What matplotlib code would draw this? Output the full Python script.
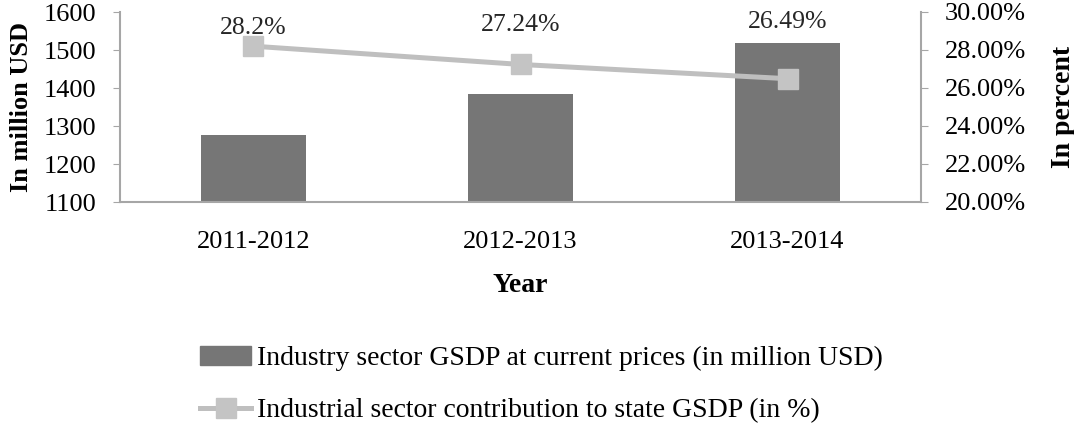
import matplotlib
matplotlib.use("Agg")
import matplotlib.pyplot as plt
from matplotlib.ticker import FuncFormatter
from matplotlib.lines import Line2D
from matplotlib.patches import Patch

years = ["2011-2012", "2012-2013", "2013-2014"]
gsdp_musd = [1276, 1385, 1518]
share_pct = [28.2, 27.24, 26.49]
share_labels = ["28.2%", "27.24%", "26.49%"]
left_ticks = [1100, 1200, 1300, 1400, 1500, 1600]
right_ticks = [20, 22, 24, 26, 28, 30]

plt.rcParams["font.family"] = ["Liberation Serif", "DejaVu Serif"]

fig = plt.figure(figsize=(10.74, 4.28), dpi=100)
ax = fig.add_axes([120/1074, 1 - 202/428, (921-120)/1074, 190/428])
x = list(range(len(years)))
bar_c = "#767676"
line_c = "#BFBFBF"
axis_c = "#A6A6A6"
tick_fs = 19

ax.bar(x, gsdp_musd, width=0.39, color=bar_c, zorder=2)
ax.set_xlim(-0.5, 2.5)
ax.set_ylim(1100, 1600)
ax.set_yticks(left_ticks)
ax.set_xticks(x)
ax.set_xticklabels(years, fontsize=tick_fs)
ax.tick_params(axis="x", length=0, pad=21)
ax.tick_params(axis="y", labelsize=tick_fs, length=5, color=axis_c, pad=12, direction="out")
for s in ["top", "right"]:
    ax.spines[s].set_visible(False)
for s in ["left", "bottom"]:
    ax.spines[s].set_color(axis_c)
    ax.spines[s].set_linewidth(1.5)
ax.set_ylabel("In million USD", fontsize=19, fontweight="bold", labelpad=8)
ax.set_xlabel("Year", fontsize=20, fontweight="bold", labelpad=14)

ax2 = ax.twinx()
ax2.set_ylim(20, 30)
ax2.set_yticks(right_ticks)
ax2.yaxis.set_major_formatter(FuncFormatter(lambda v, p: f"{v:.2f}%"))
ax2.tick_params(axis="y", labelsize=tick_fs, length=5, color=axis_c, pad=12)
for s in ["top", "left", "bottom"]:
    ax2.spines[s].set_visible(False)
ax2.spines["right"].set_color(axis_c)
ax2.spines["right"].set_linewidth(1.5)
ax2.plot(x, share_pct, color=line_c, lw=3.6, marker="s", ms=14,
         markerfacecolor="#C4C4C4", markeredgecolor="#C4C4C4", zorder=3)
ax2.set_ylabel("In percent", fontsize=20, fontweight="bold", labelpad=18)
label_y = [0.915, 0.93, 0.945]
for xi, lab, ly in zip(x, share_labels, label_y):
    ax2.text(xi, ly, lab, transform=ax2.get_xaxis_transform(), ha="center",
             va="center", fontsize=18.5, color="#262626")

handles = [Patch(color=bar_c),
           Line2D([0], [0], color=line_c, lw=3.6, marker="s", ms=14,
                  markerfacecolor="#C4C4C4", markeredgecolor="#C4C4C4")]
fig.legend(handles, ["Industry sector GSDP at current prices (in million USD)",
                     "Industrial sector contribution to state GSDP (in %)"],
           loc="upper left", bbox_to_anchor=(200/1074, 1 - 346/428), frameon=False,
           fontsize=20, handlelength=1.85, handletextpad=0.2, labelspacing=0.95,
           borderaxespad=0, borderpad=0)

fig.savefig("out.png", dpi=100)
